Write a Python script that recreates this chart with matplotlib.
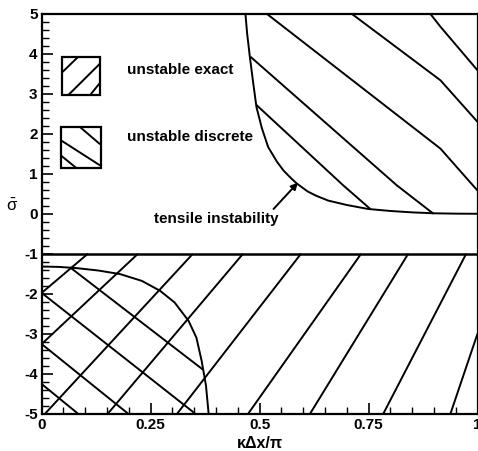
import numpy as np
import matplotlib.pyplot as plt
from matplotlib.patches import Rectangle
from matplotlib.ticker import MultipleLocator

plt.rcParams['font.family'] = ['Liberation Sans', 'DejaVu Sans']
plt.rcParams['font.weight'] = 'bold'
plt.rcParams['mathtext.default'] = 'regular'

# axes
xticks = [0, 0.25, 0.5, 0.75, 1]
xtick_labels = ['0', '0.25', '0.5', '0.75', '1']
yticks = list(range(-5, 6))
ytick_labels = [str(v) for v in yticks]

# tensile instability boundary (upper half)
tens_x = [0.4675, 0.4715, 0.4776, 0.485, 0.4928, 0.505, 0.5196, 0.54, 0.555, 0.5731,
          0.585, 0.61, 0.63, 0.6574, 0.70, 0.7492, 0.80, 0.85, 0.90, 0.95, 1.0]
tens_y = [5.0, 4.5, 3.93, 3.3, 2.67, 2.15, 1.67, 1.30, 1.08, 0.88,
          0.76, 0.56, 0.45, 0.33, 0.22, 0.12, 0.07, 0.035, 0.012, 0.003, 0.0]

# unstable discrete boundary (lower left)
disc_x = [0.0, 0.04, 0.080, 0.13, 0.180, 0.23, 0.272, 0.305, 0.337, 0.355, 0.367, 0.377, 0.383]
disc_y = [-1.32, -1.33, -1.36, -1.42, -1.51, -1.68, -1.93, -2.22, -2.68, -3.1, -3.68, -4.3, -5.0]

# hatch strokes: (x points, y points)
hatch_upper = [
    ([0.517, 0.915, 1.0], [5.0, 1.63, 0.58]),
    ([0.712, 0.915, 1.0], [5.0, 3.34, 2.30]),
    ([0.892, 0.915, 1.0], [5.0, 4.68, 3.59]),
    ([0.479, 0.815, 0.899], [3.93, 0.71, 0.0]),
    ([0.493, 0.692, 0.754], [2.72, 0.71, 0.12]),
]
hatch_exact = [
    ([0.106, 0.0], [-1.0, -1.98]),
    ([0.221, 0.0], [-1.0, -3.26]),
    ([0.347, 0.008], [-1.0, -5.0]),
    ([0.462, 0.152], [-1.0, -5.0]),
    ([0.595, 0.311], [-1.0, -5.0]),
    ([0.733, 0.474], [-1.0, -5.0]),
    ([0.841, 0.616], [-1.0, -5.0]),
    ([0.974, 0.784], [-1.0, -5.0]),
    ([1.0, 0.938], [-3.0, -5.0]),
]
hatch_discrete = [
    ([0.0, 0.083], [-4.26, -5.0]),
    ([0.0, 0.198], [-3.26, -5.0]),
    ([0.0, 0.352], [-1.98, -5.0]),
    ([0.065, 0.370], [-1.34, -3.90]),
]

# legend swatches
legend_labels = ['unstable exact', 'unstable discrete']
legend_boxes = [(0.046, 2.97, 0.088, 0.96), (0.044, 1.15, 0.091, 1.02)]
legend_hatch = [
    [([0.046, 0.084], [3.53, 3.93]), ([0.061, 0.134], [2.97, 3.76]), ([0.111, 0.134], [2.97, 3.28])],
    [([0.088, 0.134], [2.17, 1.74]), ([0.044, 0.134], [1.84, 1.21]), ([0.044, 0.079], [1.46, 1.15])],
]
legend_text_y = [3.59, 1.91]

fig = plt.figure(figsize=(4.78, 4.51), dpi=100)
ax = fig.add_axes([0.0872, 0.083, 0.9118, 0.886])

lw = 1.4
ax.plot(tens_x, tens_y, color='k', lw=lw)
ax.plot(disc_x, disc_y, color='k', lw=lw)
for xs, ys in hatch_upper + hatch_exact + hatch_discrete:
    ax.plot(xs, ys, color='k', lw=lw, solid_capstyle='butt')
ax.axhline(-1, color='k', lw=1.8)

for (x0, y0, w, h), strokes, label, ty in zip(legend_boxes, legend_hatch, legend_labels, legend_text_y):
    ax.add_patch(Rectangle((x0, y0), w, h, fill=False, ec='k', lw=1.6))
    for xs, ys in strokes:
        ax.plot(xs, ys, color='k', lw=lw, solid_capstyle='butt')
    ax.text(0.195, ty, label, fontsize=11, fontweight='bold', va='center', ha='left')

ax.annotate('', xy=(0.588, 0.78), xytext=(0.532, 0.12),
            arrowprops=dict(arrowstyle='-|>', color='k', lw=1.4, mutation_scale=10,
                            shrinkA=0, shrinkB=0))
ax.text(0.40, -0.12, 'tensile instability', fontsize=11, fontweight='bold',
        ha='center', va='center')

ax.set_xlim(0, 1)
ax.set_ylim(-5, 5)
ax.set_xticks(xticks)
ax.set_xticklabels(xtick_labels)
ax.set_yticks(yticks)
ax.set_yticklabels(ytick_labels)
ax.xaxis.set_minor_locator(MultipleLocator(0.05))
ax.yaxis.set_minor_locator(MultipleLocator(0.2))
ax.tick_params(which='both', direction='in', top=False, right=False, labelsize=11)
ax.tick_params(which='major', length=8, width=1.2, pad=3)
ax.tick_params(which='minor', length=5, width=1.0)
for s in ax.spines.values():
    s.set_linewidth(1.6)

ax.set_xlabel('κΔx/π', fontsize=11.5, fontweight='bold', labelpad=3)
ax.set_ylabel(r'$\bar{\sigma}$', fontsize=12, rotation=0, labelpad=8)
ax.yaxis.set_label_coords(-0.068, 0.5)

fig.savefig('out.png', dpi=100)
